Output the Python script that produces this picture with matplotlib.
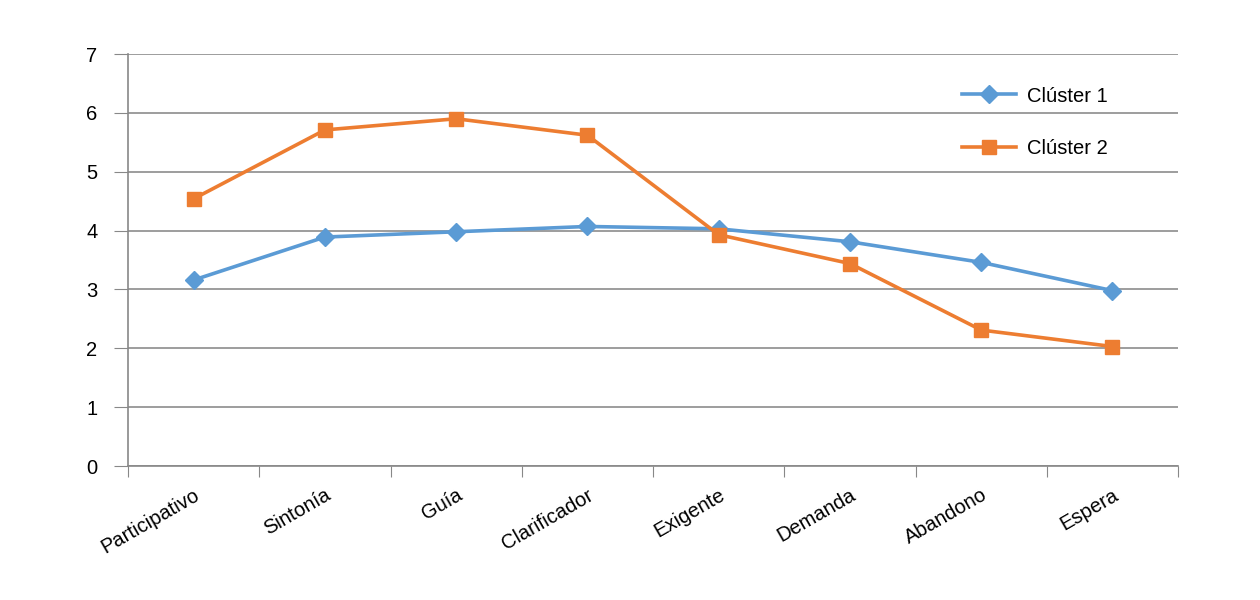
import matplotlib.pyplot as plt

# category labels and series values
categories = ["Participativo", "Sintonía", "Guía", "Clarificador",
              "Exigente", "Demanda", "Abandono", "Espera"]
cluster1 = [3.16, 3.89, 3.98, 4.07, 4.03, 3.81, 3.46, 2.98]
cluster2 = [4.54, 5.71, 5.90, 5.62, 3.93, 3.44, 2.31, 2.03]
yticks = [0, 1, 2, 3, 4, 5, 6, 7]

plt.rcParams['font.family'] = ['Liberation Sans', 'DejaVu Sans']

fig = plt.figure(figsize=(12.6, 6), dpi=100)
ax = fig.add_axes([0.1016, 0.2233, 0.8334, 0.6867])

x = [i + 0.5 for i in range(len(categories))]
ax.plot(x, cluster1, color='#5B9BD5', lw=2.6, marker='D', ms=9,
        label='Clúster 1')
ax.plot(x, cluster2, color='#ED7D31', lw=2.6, marker='s', ms=10,
        label='Clúster 2')

ax.set_xlim(0, len(categories))
ax.set_ylim(0, 7)
ax.set_yticks(yticks)
ax.set_xticks(range(len(categories) + 1))
ax.set_xticklabels([])
ax.set_xticks(x, minor=True)
ax.set_xticklabels(categories, minor=True, rotation=30, ha='right',
                   rotation_mode='anchor', fontsize=14.5)
ax.tick_params(axis='x', which='minor', length=0, pad=14)
ax.tick_params(axis='x', which='major', length=8, color='#888888')
ax.tick_params(axis='y', length=10, color='#888888', labelsize=14.5, pad=12)

ax.grid(axis='y', color='#8c8c8c', lw=1.2)
ax.set_axisbelow(True)
for s in ['top', 'right']:
    ax.spines[s].set_visible(False)
for s in ['left', 'bottom']:
    ax.spines[s].set_color('#888888')
    ax.spines[s].set_linewidth(1.2)

ax.legend(loc='upper left', bbox_to_anchor=(0.777, 0.965), frameon=False,
          fontsize=14.5, handlelength=2.7, labelspacing=1.65, handletextpad=0.5)

plt.savefig("out.png")
